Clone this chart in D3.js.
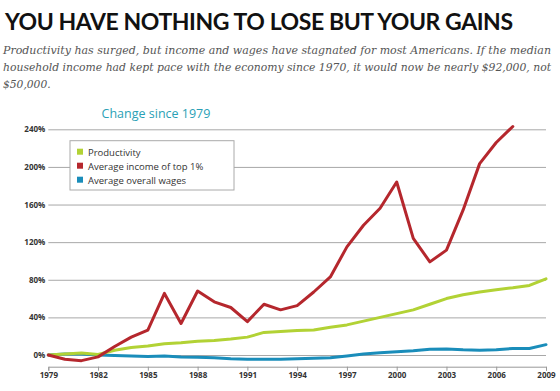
<!DOCTYPE html>
<html>
<head>
<meta charset="utf-8">
<script src="https://cdn.jsdelivr.net/npm/d3@7"></script>
<style>
  body { margin: 0; background: #fff; overflow: hidden; }
  .grid line { stroke: #a8a8a8; stroke-width: 1; }
  .grid .domain { display: none; }
  .grid text { font-family: "Open Sans", sans-serif; font-size: 8px; font-weight: 700; fill: #333; }
  .xaxis text { font-family: "Open Sans", sans-serif; font-size: 8px; font-weight: 700; fill: #333; }
  .xaxis line, .xaxis path { stroke: #999; }
</style>
</head>
<body>
<div id="chart"></div>
<script>
// Data (percent change since 1979)
var years = d3.range(1979, 2010);
var productivity = [0, 1, 2, 0.5, 5, 8, 9.5, 12, 13, 14.5, 15.5, 17, 19, 24, 25, 26, 26.5, 29.5, 32, 36, 40, 44, 48, 54, 60, 64, 67, 69.5, 71.5, 74, 81];
var topOne = [0, -4.5, -6, -2, 9, 19, 26.5, 65.5, 33.5, 68, 56.5, 50.5, 35.5, 54, 48, 52.5, 67, 83, 115, 138, 156, 184, 124, 99, 111.5, 154, 203.5, 226, 243];
var wages = [0, 1, 1, 0, -0.5, -1, -1.5, -1, -2, -2.5, -3, -4, -4.5, -4.5, -4.5, -4, -3.5, -3, -1, 1, 2.5, 3.5, 4.5, 6, 6.5, 5.5, 5, 5.5, 7, 7, 11];
var yTicks = [0, 40, 80, 120, 160, 200, 240];
var xTicks = [1979, 1982, 1985, 1988, 1991, 1994, 1997, 2000, 2003, 2006, 2009];
var legendLabels = ["Productivity", "Average income of top 1%", "Average overall wages"];
var colors = ["#b2d235", "#b5272d", "#1a8dba"];

var svgWidth = 560;
var svgHeight = 391;

var svg = d3.select("#chart")
  .append("svg")
  .attr("width", svgWidth)
  .attr("height", svgHeight);

// Header
svg.append("text")
  .attr("x", 5)
  .attr("y", 29.5)
  .attr("textLength", 508)
  .attr("lengthAdjust", "spacing")
  .style("font-family", "Lato, sans-serif")
  .style("font-weight", 700)
  .style("font-size", "23px")
  .style("fill", "#111")
  .text("YOU HAVE NOTHING TO LOSE BUT YOUR GAINS");

// Sub heading: the two long lines are squeezed to fit the width
var subLines = [
  "Productivity has surged, but income and wages have stagnated for most Americans. If the median",
  "household income had kept pace with the economy since 1970, it would now be nearly $92,000, not",
  "$50,000."
];
svg.selectAll(".sub")
  .data(subLines)
  .enter()
  .append("text")
  .attr("class", "sub")
  .attr("x", 3)
  .attr("y", (d, i) => 54 + i * 17)
  .attr("textLength", (d, i) => i < 2 ? 548 : null)
  .attr("lengthAdjust", "spacingAndGlyphs")
  .style("font-family", "'DejaVu Serif', serif")
  .style("font-style", "italic")
  .style("font-size", "10.7px")
  .style("fill", "#555")
  .text(d => d);

// Scales
var x = d3.scaleLinear().domain([1979, 2009]).range([48.3, 546]);
var y = d3.scaleLinear().domain([0, 240]).range([355, 129.3]);

// Gridlines with labels
svg.append("g")
  .attr("class", "grid")
  .attr("transform", "translate(48.3,0)")
  .call(d3.axisLeft(y).tickValues(yTicks).tickSize(-(546 - 48.3)).tickPadding(3).tickFormat(d => d + "%"));

// Bottom axis
svg.append("g")
  .attr("class", "xaxis")
  .attr("transform", "translate(0,366.7)")
  .call(d3.axisBottom(x).tickValues(xTicks).tickSize(4).tickSizeOuter(4).tickPadding(2).tickFormat(d3.format("d")));

// Chart title
svg.append("text")
  .attr("x", 156)
  .attr("y", 118)
  .attr("text-anchor", "middle")
  .style("font-family", "'Open Sans', sans-serif")
  .style("font-size", "12.5px")
  .style("fill", "#2a9fb6")
  .text("Change since 1979");

// Lines
var line = d3.line()
  .x((d, i) => x(years[i]))
  .y(d => y(d));

[[wages, colors[2]], [productivity, colors[0]], [topOne, colors[1]]].forEach(function(s) {
  svg.append("path")
    .datum(s[0])
    .attr("fill", "none")
    .attr("stroke", s[1])
    .attr("stroke-width", 3)
    .attr("stroke-linejoin", "round")
    .attr("stroke-linecap", "round")
    .attr("d", line);
});

// Legend
var legend = svg.append("g").attr("transform", "translate(70,140.7)");
legend.append("rect")
  .attr("width", 164)
  .attr("height", 49.3)
  .attr("fill", "#fff")
  .attr("stroke", "#aaa");

var items = legend.selectAll(".item")
  .data(legendLabels)
  .enter()
  .append("g")
  .attr("transform", (d, i) => `translate(7,${11.5 + i * 14})`);

items.append("rect")
  .attr("x", 0)
  .attr("y", -3.5)
  .attr("width", 6)
  .attr("height", 6)
  .attr("fill", (d, i) => colors[i]);

items.append("text")
  .attr("x", 11)
  .attr("y", 3.3)
  .style("font-family", "'Open Sans', sans-serif")
  .style("font-size", "9.5px")
  .style("fill", "#333")
  .text(d => d);
</script>
</body>
</html>
